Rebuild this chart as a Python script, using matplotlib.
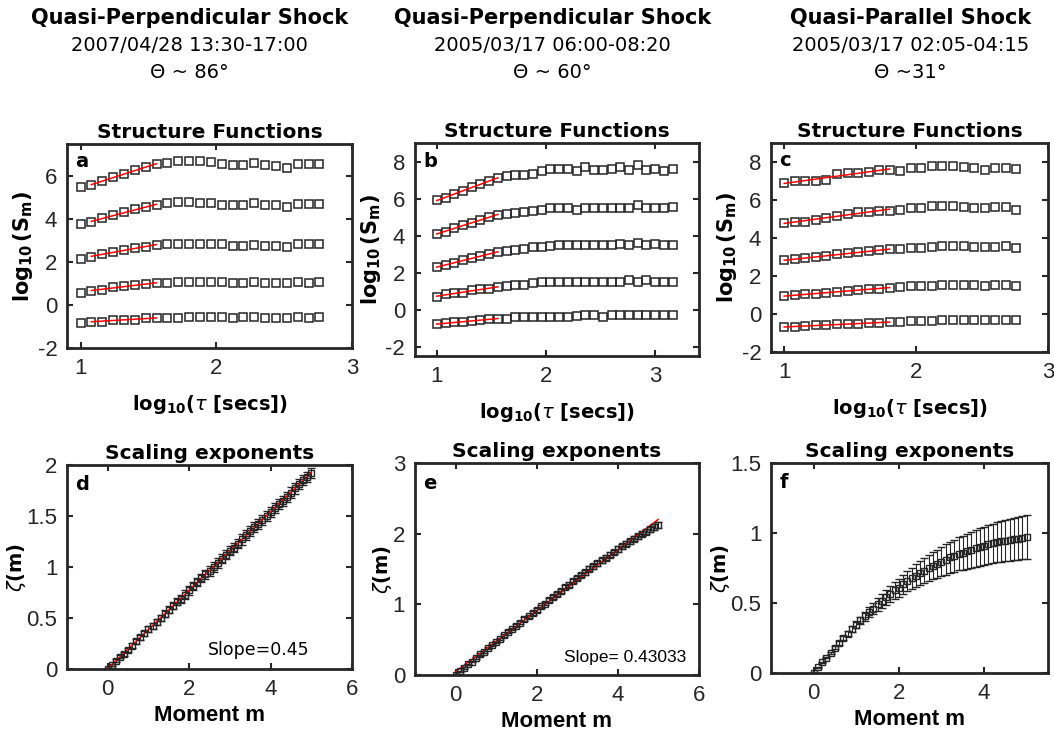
import numpy as np
import matplotlib
matplotlib.use('Agg')
import matplotlib.pyplot as plt
from matplotlib.ticker import FuncFormatter

plt.rcParams['font.family'] = ['Liberation Sans Narrow', 'Liberation Sans', 'DejaVu Sans']
plt.rcParams['mathtext.fontset'] = 'dejavusans'
plt.rcParams['axes.unicode_minus'] = False

# ---- column headers
headers = ["Quasi-Perpendicular Shock", "Quasi-Perpendicular Shock", "Quasi-Parallel Shock"]
intervals = ["2007/04/28 13:30-17:00", "2005/03/17 06:00-08:20", "2005/03/17 02:05-04:15"]
angles = ["\u0398 ~ 86\u00b0", "\u0398 ~ 60\u00b0", "\u0398 ~31\u00b0"]
header_x = [0.180, 0.524, 0.864]

# ---- structure functions, log10(tau) and log10(S_m) for m = 5..1 (top row first)
tau_a = [1.00, 1.08, 1.16, 1.24, 1.32, 1.40, 1.48, 1.56, 1.64, 1.72, 1.80, 1.88,
         1.96, 2.04, 2.12, 2.20, 2.28, 2.36, 2.44, 2.52, 2.60, 2.68, 2.76]
sf_a = [
    [5.51, 5.59, 5.76, 5.94, 6.12, 6.28, 6.43, 6.55, 6.63, 6.72, 6.72, 6.72,
     6.68, 6.55, 6.52, 6.50, 6.63, 6.50, 6.49, 6.39, 6.56, 6.56, 6.56],
    [3.78, 3.86, 4.04, 4.17, 4.32, 4.45, 4.56, 4.66, 4.75, 4.80, 4.80, 4.77,
     4.74, 4.66, 4.64, 4.64, 4.77, 4.64, 4.64, 4.55, 4.72, 4.72, 4.72],
    [2.13, 2.24, 2.36, 2.46, 2.58, 2.65, 2.72, 2.79, 2.84, 2.86, 2.86, 2.86,
     2.86, 2.82, 2.75, 2.75, 2.80, 2.75, 2.74, 2.72, 2.82, 2.82, 2.82],
    [0.55, 0.66, 0.72, 0.82, 0.87, 0.93, 0.97, 1.02, 1.02, 1.07, 1.07, 1.07,
     1.07, 1.07, 1.03, 1.03, 1.07, 1.03, 1.03, 1.03, 1.07, 1.03, 1.07],
    [-0.83, -0.77, -0.77, -0.71, -0.68, -0.68, -0.61, -0.61, -0.61, -0.61, -0.55, -0.55,
     -0.55, -0.55, -0.61, -0.58, -0.55, -0.61, -0.61, -0.61, -0.55, -0.61, -0.55],
]
tau_b = [1.00, 1.08, 1.16, 1.24, 1.32, 1.40, 1.48, 1.56, 1.64, 1.72, 1.80, 1.88, 1.96, 2.04,
         2.12, 2.20, 2.28, 2.36, 2.44, 2.52, 2.60, 2.68, 2.76, 2.84, 2.92, 3.00, 3.08, 3.16]
sf_b = [
    [5.91, 6.05, 6.24, 6.42, 6.60, 6.77, 6.95, 7.12, 7.23, 7.28, 7.28, 7.34, 7.47, 7.59,
     7.59, 7.59, 7.47, 7.71, 7.56, 7.56, 7.59, 7.71, 7.56, 7.81, 7.52, 7.59, 7.50, 7.61],
    [4.09, 4.22, 4.40, 4.55, 4.69, 4.86, 4.99, 5.13, 5.17, 5.23, 5.27, 5.32, 5.39, 5.50,
     5.50, 5.50, 5.39, 5.50, 5.50, 5.50, 5.50, 5.50, 5.50, 5.65, 5.50, 5.50, 5.50, 5.54],
    [2.29, 2.42, 2.53, 2.66, 2.79, 2.90, 2.99, 3.12, 3.15, 3.25, 3.30, 3.36, 3.40, 3.45,
     3.48, 3.48, 3.48, 3.48, 3.48, 3.48, 3.48, 3.54, 3.48, 3.59, 3.48, 3.56, 3.48, 3.48],
    [0.70, 0.83, 0.88, 0.92, 1.05, 1.10, 1.14, 1.23, 1.28, 1.32, 1.36, 1.43, 1.47, 1.52,
     1.52, 1.52, 1.52, 1.52, 1.52, 1.52, 1.52, 1.52, 1.58, 1.52, 1.61, 1.52, 1.52, 1.52],
    [-0.77, -0.73, -0.68, -0.68, -0.61, -0.55, -0.51, -0.48, -0.48, -0.42, -0.42, -0.40, -0.37, -0.37,
     -0.37, -0.37, -0.33, -0.29, -0.29, -0.37, -0.29, -0.29, -0.29, -0.29, -0.29, -0.29, -0.29, -0.29],
]
tau_c = [1.00, 1.08, 1.16, 1.24, 1.32, 1.40, 1.48, 1.56, 1.64, 1.72, 1.80, 1.88,
         1.96, 2.04, 2.12, 2.20, 2.28, 2.36, 2.44, 2.52, 2.60, 2.68, 2.76]
sf_c = [
    [6.91, 6.98, 6.98, 7.02, 7.07, 7.35, 7.42, 7.42, 7.50, 7.57, 7.57, 7.53,
     7.67, 7.67, 7.78, 7.78, 7.78, 7.74, 7.71, 7.58, 7.71, 7.71, 7.62],
    [4.79, 4.83, 4.86, 4.95, 5.06, 5.18, 5.29, 5.38, 5.38, 5.43, 5.43, 5.47,
     5.58, 5.58, 5.66, 5.66, 5.66, 5.63, 5.58, 5.58, 5.63, 5.63, 5.49],
    [2.84, 2.88, 2.93, 3.00, 3.04, 3.15, 3.20, 3.26, 3.30, 3.35, 3.40, 3.42,
     3.48, 3.50, 3.55, 3.57, 3.57, 3.57, 3.55, 3.52, 3.55, 3.56, 3.50],
    [0.94, 0.98, 1.03, 1.08, 1.12, 1.18, 1.22, 1.27, 1.30, 1.34, 1.38, 1.40,
     1.45, 1.47, 1.50, 1.53, 1.53, 1.52, 1.52, 1.50, 1.53, 1.53, 1.50],
    [-0.68, -0.66, -0.64, -0.60, -0.58, -0.55, -0.52, -0.50, -0.48, -0.46, -0.42, -0.41,
     -0.38, -0.38, -0.36, -0.33, -0.33, -0.33, -0.33, -0.33, -0.33, -0.33, -0.33],
]
# index range (inclusive) used for the red power-law fits
fit_range = [(1, 7), (0, 7), (0, 10)]

# ---- scaling exponents
moments = [0.0, 0.1, 0.2, 0.3, 0.4, 0.5, 0.6, 0.7, 0.8, 0.9, 1.0, 1.1, 1.2, 1.3, 1.4, 1.5, 1.6,
           1.7, 1.8, 1.9, 2.0, 2.1, 2.2, 2.3, 2.4, 2.5, 2.6, 2.7, 2.8, 2.9, 3.0, 3.1, 3.2, 3.3,
           3.4, 3.5, 3.6, 3.7, 3.8, 3.9, 4.0, 4.1, 4.2, 4.3, 4.4, 4.5, 4.6, 4.7, 4.8, 4.9, 5.0]
zeta_d = [0.00, 0.04, 0.08, 0.12, 0.15, 0.19, 0.23, 0.27, 0.31, 0.35, 0.39, 0.42, 0.46, 0.50,
          0.54, 0.58, 0.62, 0.66, 0.69, 0.73, 0.77, 0.81, 0.85, 0.89, 0.93, 0.96, 1.00, 1.04,
          1.08, 1.12, 1.16, 1.19, 1.23, 1.27, 1.31, 1.35, 1.39, 1.42, 1.46, 1.50, 1.54, 1.58,
          1.62, 1.65, 1.69, 1.73, 1.77, 1.81, 1.85, 1.88, 1.92]
err_d = [0.005, 0.01, 0.015, 0.015, 0.02, 0.02, 0.02, 0.025, 0.025, 0.025, 0.03, 0.03, 0.03,
         0.03, 0.035, 0.035, 0.035, 0.035, 0.04, 0.04, 0.04, 0.04, 0.04, 0.04, 0.045, 0.045,
         0.045, 0.045, 0.045, 0.045, 0.045, 0.045, 0.045, 0.05, 0.05, 0.05, 0.05, 0.05, 0.05,
         0.05, 0.05, 0.05, 0.05, 0.05, 0.05, 0.05, 0.05, 0.05, 0.05, 0.05, 0.05]
zeta_e = [0.00, 0.05, 0.10, 0.15, 0.19, 0.24, 0.29, 0.33, 0.38, 0.42, 0.47, 0.51, 0.56, 0.61,
          0.65, 0.70, 0.74, 0.79, 0.83, 0.88, 0.92, 0.97, 1.01, 1.06, 1.10, 1.15, 1.19, 1.24,
          1.28, 1.33, 1.37, 1.41, 1.45, 1.50, 1.54, 1.58, 1.62, 1.66, 1.70, 1.74, 1.78, 1.82,
          1.86, 1.89, 1.93, 1.96, 2.00, 2.03, 2.06, 2.09, 2.12]
err_e = [0.005, 0.005, 0.01, 0.01, 0.01, 0.01, 0.015, 0.015, 0.015, 0.015, 0.015, 0.02, 0.02,
         0.02, 0.02, 0.02, 0.02, 0.025, 0.025, 0.025, 0.025, 0.025, 0.025, 0.025, 0.03, 0.03,
         0.03, 0.03, 0.03, 0.03, 0.03, 0.03, 0.035, 0.035, 0.035, 0.035, 0.035, 0.035, 0.035,
         0.035, 0.04, 0.04, 0.04, 0.04, 0.04, 0.04, 0.04, 0.04, 0.04, 0.04, 0.04]
zeta_f = [0.00, 0.04, 0.075, 0.11, 0.145, 0.18, 0.215, 0.25, 0.28, 0.315, 0.345, 0.375, 0.405,
          0.435, 0.46, 0.49, 0.515, 0.54, 0.565, 0.59, 0.61, 0.635, 0.655, 0.675, 0.695, 0.715,
          0.73, 0.75, 0.765, 0.78, 0.795, 0.81, 0.825, 0.835, 0.85, 0.86, 0.87, 0.88, 0.89, 0.90,
          0.91, 0.92, 0.925, 0.935, 0.94, 0.945, 0.95, 0.955, 0.96, 0.965, 0.97]
err_f = [0.0, 0.002, 0.004, 0.006, 0.008, 0.01, 0.012, 0.015, 0.018, 0.021, 0.024, 0.028, 0.032,
         0.036, 0.04, 0.044, 0.048, 0.052, 0.056, 0.06, 0.064, 0.068, 0.072, 0.076, 0.08, 0.084,
         0.088, 0.092, 0.096, 0.10, 0.104, 0.108, 0.112, 0.115, 0.118, 0.121, 0.124, 0.127, 0.13,
         0.133, 0.136, 0.139, 0.141, 0.143, 0.145, 0.147, 0.149, 0.151, 0.153, 0.154, 0.155]

DARK = '#262626'
fmt = FuncFormatter(lambda v, p: '%g' % v)


def style_axes(ax, xticks, yticks, xlim, ylim):
    ax.set_xlim(xlim)
    ax.set_ylim(ylim)
    ax.set_xticks(xticks)
    ax.set_yticks(yticks)
    ax.xaxis.set_major_formatter(fmt)
    ax.yaxis.set_major_formatter(fmt)
    ax.tick_params(direction='in', top=True, right=True, length=4, width=1.5,
                   labelsize=16, colors=DARK, pad=7)
    for s in ax.spines.values():
        s.set_linewidth(2)
        s.set_color(DARK)


fig = plt.figure(figsize=(10.54, 7.38), dpi=100)

for i in range(3):
    fig.text(header_x[i], 0.975, headers[i], ha='center', va='center',
             family='DejaVu Sans', fontweight='bold', fontsize=15)
    fig.text(header_x[i], 0.939, intervals[i], ha='center', va='center',
             family='DejaVu Sans', fontsize=14)
    fig.text(header_x[i], 0.902, angles[i], ha='center', va='center',
             family='DejaVu Sans', fontsize=14)

top_rects = [[0.0636, 0.5285, 0.2704, 0.2764],
             [0.3937, 0.5176, 0.2694, 0.2886],
             [0.7315, 0.5230, 0.2628, 0.2832]]
bot_rects = [[0.0636, 0.0935, 0.2704, 0.2764],
             [0.3937, 0.0854, 0.2694, 0.2873],
             [0.7315, 0.0881, 0.2628, 0.2846]]

taus = [tau_a, tau_b, tau_c]
sfs = [sf_a, sf_b, sf_c]
top_ylims = [(-2, 7.5), (-2.5, 9), (-2, 9)]
top_yticks = [[-2, 0, 2, 4, 6], [-2, 0, 2, 4, 6, 8], [-2, 0, 2, 4, 6, 8]]
top_xlims = [(0.9, 3), (0.8, 3.4), (0.9, 3)]
letters_top = ['a', 'b', 'c']

for i in range(3):
    ax = fig.add_axes(top_rects[i])
    t = np.array(taus[i])
    lo, hi = fit_range[i]
    for row in sfs[i]:
        s = np.array(row)
        ax.plot(t, s, 's', mfc='none', mec=DARK, ms=5.2, mew=1.1)
        p = np.polyfit(t[lo:hi + 1], s[lo:hi + 1], 1)
        xf = t[[lo, hi]]
        ax.plot(xf, np.polyval(p, xf), color='red', lw=1.1)
    style_axes(ax, [1, 2, 3], top_yticks[i], top_xlims[i], top_ylims[i])
    ax.set_title('Structure Functions', family='DejaVu Sans', fontweight='bold',
                 fontsize=14.5, pad=4)
    ax.set_xlabel(r'$\mathbf{log_{10}(}\tau\ \mathbf{[secs])}$', fontsize=14, labelpad=10)
    ax.set_ylabel(r'$\mathbf{log_{10}\,(S_m)}$', fontsize=15, labelpad=2)
    ax.text(0.03, 0.96, letters_top[i], transform=ax.transAxes, ha='left', va='top',
            family='DejaVu Sans', fontweight='bold', fontsize=14)

zetas = [zeta_d, zeta_e, zeta_f]
errs = [err_d, err_e, err_f]
bot_ylims = [(0, 2), (0, 3), (0, 1.5)]
bot_yticks = [[0, 0.5, 1, 1.5, 2], [0, 1, 2, 3], [0, 0.5, 1, 1.5]]
bot_xlims = [(-1, 6), (-1, 6), (-1, 5.5)]
bot_xticks = [[0, 2, 4, 6], [0, 2, 4, 6], [0, 2, 4]]
letters_bot = ['d', 'e', 'f']

m = np.array(moments)
for i in range(3):
    ax = fig.add_axes(bot_rects[i])
    z = np.array(zetas[i])
    ax.errorbar(m, z, yerr=errs[i], fmt='s', mfc='none', mec=DARK, ms=4.5, mew=1.0,
                ecolor=DARK, elinewidth=0.8, capsize=3, capthick=0.8)
    if i < 2:
        p = np.polyfit(m, z, 1)
        xf = m[[0, -1]]
        ax.plot(xf, np.polyval(p, xf), color='red', lw=1.1)
    style_axes(ax, bot_xticks[i], bot_yticks[i], bot_xlims[i], bot_ylims[i])
    ax.set_title('Scaling exponents', family='DejaVu Sans', fontweight='bold',
                 fontsize=14.5, pad=4)
    ax.set_xlabel('Moment m', fontweight='bold', fontsize=16, labelpad=4)
    ax.set_ylabel(r'$\zeta\mathbf{(m)}$', fontsize=14, labelpad=-1)
    ax.text(0.03, 0.95, letters_bot[i], transform=ax.transAxes, ha='left', va='top',
            family='DejaVu Sans', fontweight='bold', fontsize=14)
    if i == 0:
        ax.text(0.495, 0.093, 'Slope=0.45', transform=ax.transAxes, ha='left',
                va='center', family='DejaVu Sans', fontsize=12.5)
    if i == 1:
        ax.text(0.525, 0.082, 'Slope= 0.43033', transform=ax.transAxes, ha='left',
                va='center', fontsize=12.5)

fig.savefig('out.png', dpi=100)
